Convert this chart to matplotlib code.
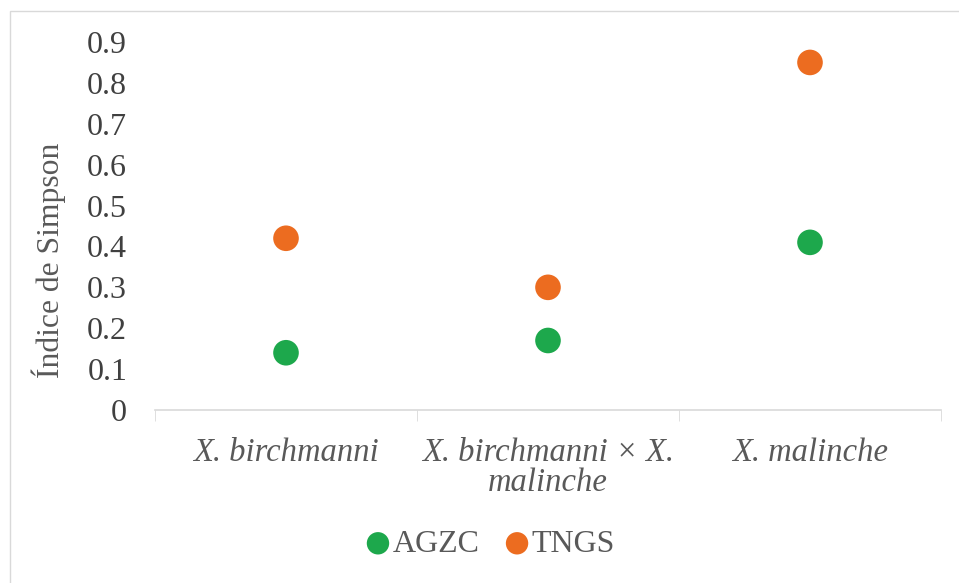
import matplotlib
matplotlib.use("Agg")
import matplotlib.pyplot as plt
from matplotlib.patches import Rectangle

categories = ["X. birchmanni", "X. birchmanni × X.\nmalinche", "X. malinche"]
agzc = [0.14, 0.17, 0.41]
tngs = [0.42, 0.30, 0.85]
yticks = [0, 0.1, 0.2, 0.3, 0.4, 0.5, 0.6, 0.7, 0.8, 0.9]
ytick_labels = ["0", "0.1", "0.2", "0.3", "0.4", "0.5", "0.6", "0.7", "0.8", "0.9"]

plt.rcParams['font.family'] = ['Liberation Serif', 'DejaVu Serif']

fig = plt.figure(figsize=(9.59, 5.83), dpi=100)
fig.patches.append(Rectangle((10/959, -0.01), 1.0, 1 - 11/583 + 0.01, transform=fig.transFigure,
                             fill=False, edgecolor='#D9D9D9', linewidth=1.0))
ax = fig.add_axes([155/959, 1 - 410/583, (941-155)/959, (410-42)/583])

x = list(range(len(categories)))
green = '#1DA84C'
orange = '#EC6C20'
ax.scatter(x, agzc, s=340, color=green, zorder=3, label='AGZC', edgecolors='none')
ax.scatter(x, tngs, s=340, color=orange, zorder=3, label='TNGS', edgecolors='none')

ax.set_xlim(-0.5, 2.5)
ax.set_ylim(0, 0.9)
ax.set_yticks(yticks)
ax.set_yticklabels(ytick_labels)
ax.set_xticks(x)
ax.set_xticklabels(categories, fontstyle='italic', fontsize=23.5, color='#595959', linespacing=0.95)
ax.set_xticks([-0.5, 0.5, 1.5, 2.5], minor=True)
ax.tick_params(axis='x', which='major', length=0, pad=20)
ax.tick_params(axis='x', which='minor', length=8, color='#D9D9D9', direction='out')
ax.tick_params(axis='y', length=0, labelsize=23, labelcolor='#404040', pad=20)

for s in ['top', 'right', 'left']:
    ax.spines[s].set_visible(False)
ax.spines['bottom'].set_color('#D9D9D9')
ax.spines['bottom'].set_linewidth(1.2)

ax.set_ylabel('Índice de Simpson', fontsize=22.8, color='#595959')
ax.yaxis.set_label_coords(-(155 - 49) / (941 - 155), (410 - 260) / (410 - 42))
ax.yaxis.label.set_va('center')

leg = fig.legend(loc='center', bbox_to_anchor=(490/959, 1 - 544/583), ncol=2, frameon=False,
                 fontsize=23, handlelength=0.8, handletextpad=0.05, columnspacing=0.78,
                 labelcolor='#595959', borderpad=0)
for h in leg.legend_handles:
    h.set_sizes([260])

fig.savefig('out.png', dpi=100)
